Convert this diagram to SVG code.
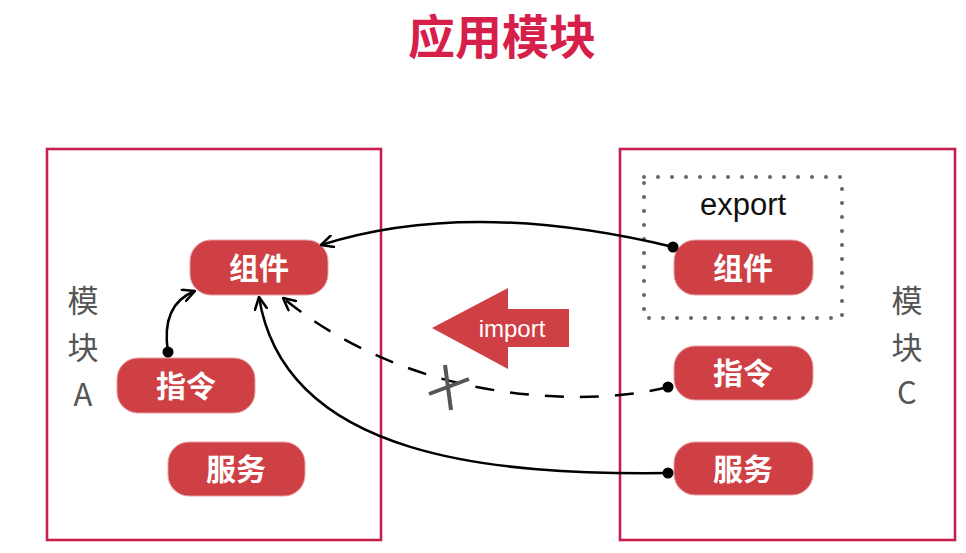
<svg xmlns="http://www.w3.org/2000/svg" width="966" height="553" viewBox="0 0 966 553">
<defs>
<style>
.module{fill:#fff;stroke:#c81e4b;stroke-width:2.6}
.node rect{fill:#cf4044;stroke:#e7a0a3;stroke-width:1}
.node text{font-family:"Noto Sans CJK SC","Noto Sans",sans-serif;font-weight:700;font-size:30px;fill:#fff;text-anchor:middle}
.mlabel{font-family:"Noto Sans CJK SC","Noto Sans",sans-serif;font-weight:400;font-size:31px;fill:#555;text-anchor:middle}
.conn{fill:none;stroke:#000;stroke-width:2.5}
.dash{stroke-dasharray:19 16}
</style>
<marker id="arr" viewBox="0 0 14 14" refX="13" refY="7" markerWidth="14" markerHeight="14" markerUnits="userSpaceOnUse" orient="auto">
<path d="M1,1 L13,7 L1,13" fill="none" stroke="#000" stroke-width="2.5" stroke-linecap="round" stroke-linejoin="round"/>
</marker>
</defs>
<rect width="966" height="553" fill="#fff"/>
<text x="502" y="54" font-family="'Noto Sans CJK SC','Noto Sans',sans-serif" font-weight="700" font-size="47" fill="#d6204a" text-anchor="middle">应用模块</text>

<g id="moduleA">
<rect class="module" x="47" y="149" width="334" height="391"/>
<text class="mlabel" x="83" y="312">模</text>
<text class="mlabel" x="83" y="359">块</text>
<text class="mlabel" x="83" y="406">A</text>
</g>
<g id="moduleC">
<rect class="module" x="620" y="149" width="335" height="391"/>
<text class="mlabel" x="907" y="312">模</text>
<text class="mlabel" x="907" y="359">块</text>
<text class="mlabel" x="907" y="404">C</text>
</g>
<g id="export">
<rect x="644" y="177" width="198" height="141" fill="none" stroke="#666" stroke-width="4" stroke-linecap="round" stroke-dasharray="0 14"/>
<text x="743" y="215" font-family="'Liberation Sans',Arial,sans-serif" font-size="31" fill="#111" text-anchor="middle">export</text>
</g>

<g id="A-component" class="node"><rect x="190" y="240" width="138" height="55" rx="21"/><text x="259" y="279">组件</text></g>
<g id="A-directive" class="node"><rect x="117" y="358" width="138" height="55" rx="21"/><text x="186" y="397">指令</text></g>
<g id="A-service" class="node"><rect x="168" y="442" width="137" height="54" rx="21"/><text x="236" y="480">服务</text></g>
<g id="C-component" class="node"><rect x="674" y="240" width="139" height="55" rx="21"/><text x="743" y="279">组件</text></g>
<g id="C-directive" class="node"><rect x="674" y="346" width="139" height="54" rx="21"/><text x="743" y="384">指令</text></g>
<g id="C-service" class="node"><rect x="674" y="442" width="139" height="53" rx="21"/><text x="743" y="480">服务</text></g>

<g id="import">
<polygon points="432,328 508,288 508,309 569,309 569,347 508,347 508,369" fill="#cf4044"/>
<text x="512" y="337" font-family="'Liberation Sans',Arial,sans-serif" font-size="24" fill="#fff" text-anchor="middle">import</text>
</g>

<g id="connectors">
<path class="conn" d="M673,247 Q469,198 321,245" marker-end="url(#arr)"/>
<path class="conn" d="M168,352 C163,320 172,300 195,291" marker-end="url(#arr)"/>
<path class="conn dash" d="M668,387 C600,405 420,410 283,298" marker-end="url(#arr)"/>
<path class="conn" d="M668,473 C500,475 285,460 259,297" marker-end="url(#arr)"/>
<circle cx="673" cy="247" r="5.5"/>
<circle cx="168" cy="352" r="5.5"/>
<circle cx="668" cy="387" r="5.5"/>
<circle cx="668" cy="473" r="5.5"/>
<g id="blocked" stroke="#555" stroke-width="4" stroke-linecap="butt">
<line x1="445" y1="365" x2="451" y2="410"/>
<line x1="429" y1="394" x2="469" y2="379"/>
</g>
</g>
</svg>
